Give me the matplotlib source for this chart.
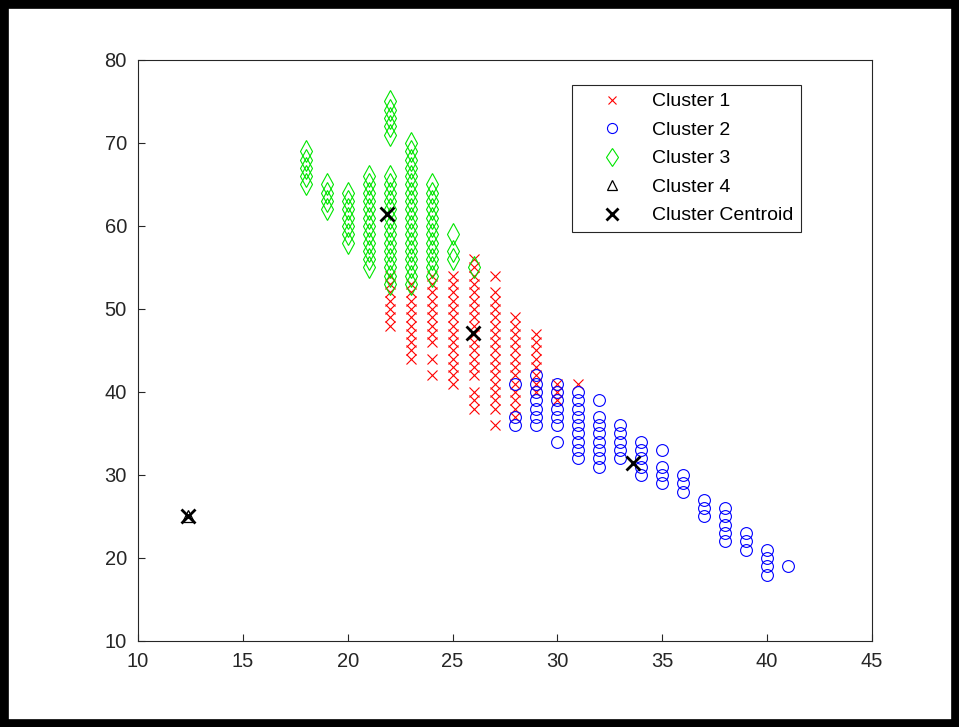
import matplotlib
matplotlib.use("Agg")
import matplotlib.pyplot as plt
from matplotlib.patches import Rectangle

plt.rcParams['font.family'] = ['Liberation Sans', 'DejaVu Sans']

# cluster 1 (red x), one entry per x column
c1_x = [22, 23, 24, 25, 26, 27, 28, 29, 30, 31]
c1_y = [
    [48, 49, 50, 51, 52, 53, 54],
    [44, 45, 46, 47, 48, 49, 50, 51, 52, 53],
    [42, 44, 46, 47, 48, 49, 50, 51, 52, 53, 54],
    [41, 42, 43, 44, 45, 46, 47, 48, 49, 50, 51, 52, 53, 54],
    [38, 39, 40, 42, 43, 44, 45, 46, 47, 48, 49, 50, 51, 52, 53, 54, 55, 56],
    [36, 38, 39, 40, 41, 42, 43, 44, 45, 46, 47, 48, 49, 50, 51, 52, 54],
    [37, 38, 39, 40, 41, 42, 43, 44, 45, 46, 47, 48, 49],
    [40, 41, 42, 43, 44, 45, 46, 47],
    [39, 40, 41],
    [41],
]

# cluster 2 (blue o)
c2_x = [28, 29, 30, 31, 32, 33, 34, 35, 36, 37, 38, 39, 40, 41]
c2_y = [
    [36, 37, 41],
    [36, 37, 38, 39, 40, 41, 42],
    [34, 36, 37, 38, 39, 40, 41],
    [32, 33, 34, 35, 36, 37, 38, 39, 40],
    [31, 32, 33, 34, 35, 36, 37, 39],
    [32, 33, 34, 35, 36],
    [30, 31, 32, 33, 34],
    [29, 30, 31, 33],
    [28, 29, 30],
    [25, 26, 27],
    [22, 23, 24, 25, 26],
    [21, 22, 23],
    [18, 19, 20, 21],
    [19],
]

# cluster 3 (green diamond)
c3_x = [18, 19, 20, 21, 22, 23, 24, 25, 26]
c3_y = [
    [65, 66, 67, 68, 69],
    [62, 63, 64, 65],
    [58, 59, 60, 61, 62, 63, 64],
    [55, 56, 57, 58, 59, 60, 61, 62, 63, 64, 65, 66],
    [53, 54, 55, 56, 57, 58, 59, 60, 61, 62, 63, 64, 65, 66, 71, 72, 73, 74, 75],
    [53, 54, 55, 56, 57, 58, 59, 60, 61, 62, 63, 64, 65, 66, 67, 68, 69, 70],
    [54, 55, 56, 57, 58, 59, 60, 61, 62, 63, 64, 65],
    [56, 57, 59],
    [55],
]

# cluster 4 (black triangle)
c4_x = [12.4]
c4_y = [25]

# centroids
cent_x = [25.95, 33.6, 21.85, 12.4]
cent_y = [47.1, 31.4, 61.4, 25.0]

labels = ['Cluster 1', 'Cluster 2', 'Cluster 3', 'Cluster 4', 'Cluster Centroid']


def flatten(xs, ys):
    px, py = [], []
    for x, col in zip(xs, ys):
        for y in col:
            px.append(x)
            py.append(y)
    return px, py


fig = plt.figure(figsize=(9.59, 7.27), dpi=100)
ax = fig.add_axes([0.1439, 0.1183, 0.7654, 0.7992])

x1, y1 = flatten(c1_x, c1_y)
x2, y2 = flatten(c2_x, c2_y)
x3, y3 = flatten(c3_x, c3_y)

ax.plot(x1, y1, 'x', color=(1, 0, 0), ms=7, mew=0.8, ls='none', label=labels[0])
ax.plot(x2, y2, 'o', color=(0, 0, 1), mfc='none', ms=8.5, mew=0.8, ls='none', label=labels[1])
ax.plot(x3, y3, 'd', color=(0, 0.9, 0), mfc='none', ms=11, mew=0.8, ls='none', label=labels[2])
ax.plot(c4_x, c4_y, '^', color='k', mfc='none', ms=8, mew=0.9, ls='none', label=labels[3])
ax.plot(cent_x, cent_y, 'x', color='k', ms=10, mew=2, ls='none', label=labels[4])

ax.set_xlim(10, 45)
ax.set_ylim(10, 80)
ax.set_xticks([10, 15, 20, 25, 30, 35, 40, 45])
ax.set_yticks([10, 20, 30, 40, 50, 60, 70, 80])

for s in ax.spines.values():
    s.set_color('#262626')
    s.set_linewidth(0.8)
ax.tick_params(direction='in', length=5, width=0.8, colors='#262626',
               labelsize=14.5, pad=8)

leg = ax.legend(loc='upper left', bbox_to_anchor=(0.591, 0.957), borderaxespad=0,
                fontsize=14, frameon=True, fancybox=False, framealpha=1,
                edgecolor='#262626', borderpad=0.4, handlelength=3.3,
                handletextpad=0.4, labelspacing=0.56, numpoints=1,
                markerscale=0.85)
leg.get_frame().set_linewidth(0.8)

# thick black frame round the picture
fig.add_artist(Rectangle((0, 0), 1, 1, transform=fig.transFigure, fill=False,
                         edgecolor='black', linewidth=12))

fig.savefig('out.png', dpi=100)
